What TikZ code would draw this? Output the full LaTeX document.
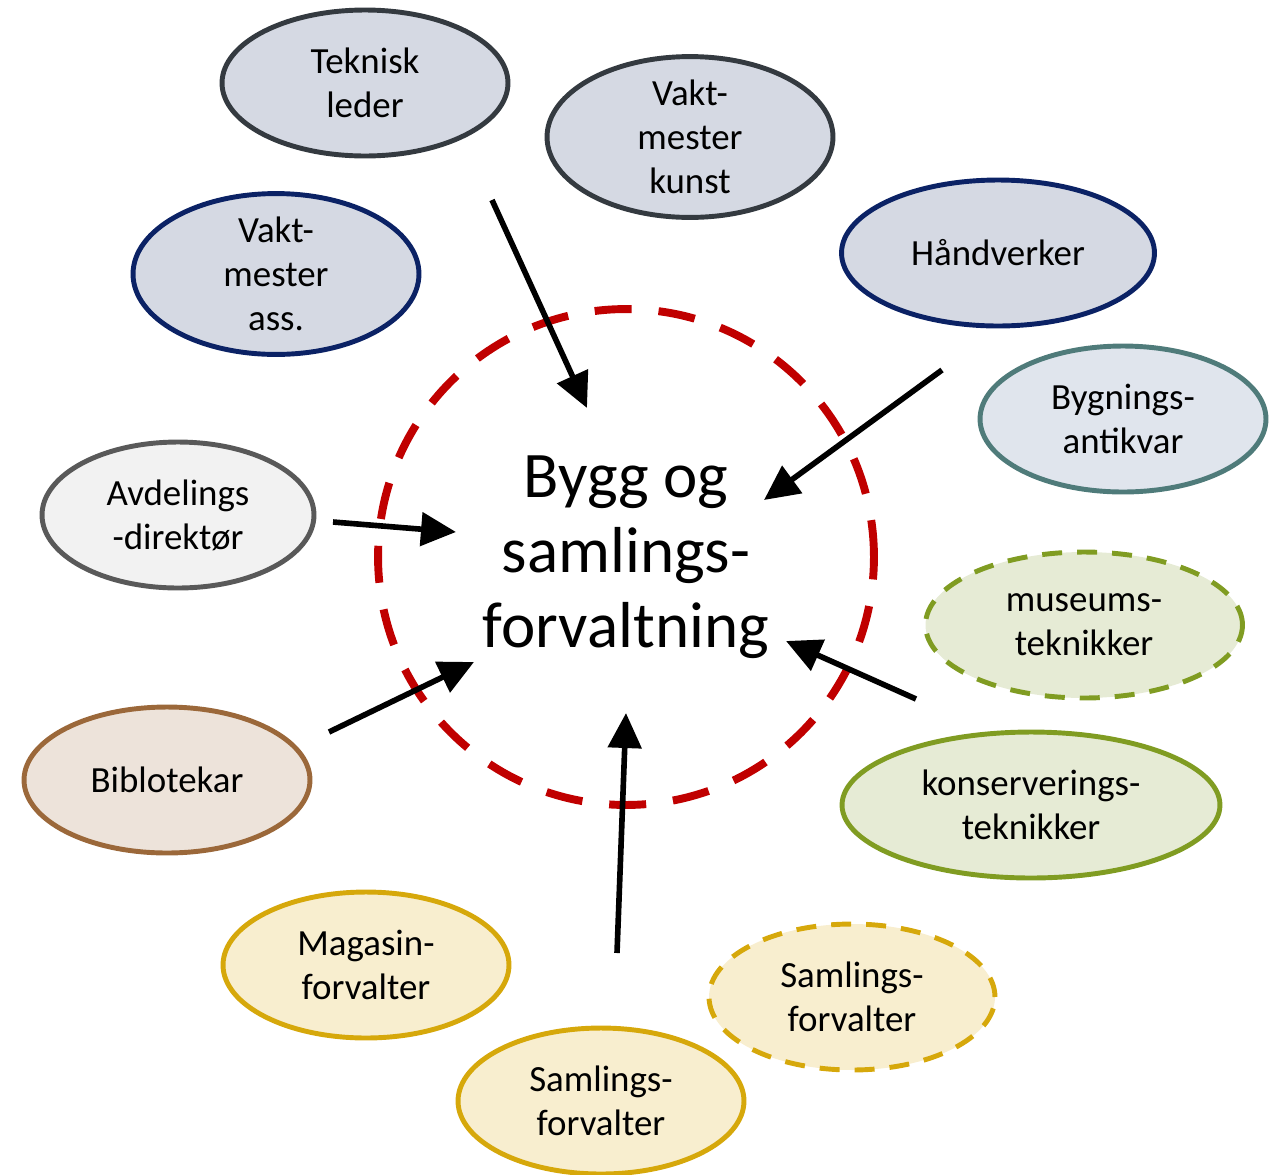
\documentclass[tikz,border=0pt]{standalone}
\usepackage{fontspec}
\setmainfont{Carlito}
\usetikzlibrary{shapes.geometric,arrows.meta}

\definecolor{slatefill}{HTML}{D5D9E3}
\definecolor{slateline}{HTML}{343A40}
\definecolor{navyline}{HTML}{0B2265}
\definecolor{tealfill}{HTML}{E0E5ED}
\definecolor{tealline}{HTML}{4F7B7A}
\definecolor{greyfill}{HTML}{F2F2F2}
\definecolor{greyline}{HTML}{595959}
\definecolor{olivefill}{HTML}{E6EBD5}
\definecolor{oliveline}{HTML}{809C22}
\definecolor{brownfill}{HTML}{EDE3DA}
\definecolor{brownline}{HTML}{9B683A}
\definecolor{goldfill}{HTML}{F8EECF}
\definecolor{goldline}{HTML}{D6A80B}
\definecolor{corered}{HTML}{C00000}

\tikzset{
  role/.style={ellipse, line width=2.8pt, inner sep=0pt, minimum width=5.72cm,
    minimum height=2.92cm, align=center, font=\fontsize{21}{25}\selectfont},
  tentative/.style={dash pattern=on 0.4cm off 0.3cm},
  feeds/.style={-{Triangle[length=0.7cm,width=0.66cm]}, line width=3.2pt},
}

\begin{document}
\begin{tikzpicture}[x=0.02cm, y=-0.02cm]
  \useasboundingbox (0,0) rectangle (1271,1174);

  % centre
  \node[circle, draw=corered, line width=4.5pt, dash pattern=on 0.74cm off 0.54cm,
    minimum size=9.92cm, align=center, font=\fontsize{37}{42.7}\selectfont]
    (core) at (626,557) {Bygg og\\samlings-\\forvaltning};

  % technical staff
  \node[role, fill=slatefill, draw=slateline] (leader) at (365,83) {Teknisk\\leder};
  \node[role, fill=slatefill, draw=slateline] (artkeeper) at (690,137) {Vakt-\\mester\\kunst};
  \node[role, fill=slatefill, draw=navyline] (asskeeper) at (276,274) {Vakt-\\mester\\ass.};
  \node[role, fill=slatefill, draw=navyline, minimum width=6.26cm] (craft) at (998,253) {Håndverker};
  \node[role, fill=tealfill, draw=tealline] (antiq) at (1123,419) {Bygnings-\\antikvar};

  % management and library
  \node[role, fill=greyfill, draw=greyline, minimum width=5.44cm] (director) at (178,515) {Avdelings\\-direktør};
  \node[role, fill=brownfill, draw=brownline] (library) at (167,780) {Biblotekar};

  % conservation
  \node[role, tentative, fill=olivefill, draw=oliveline, minimum width=6.34cm] (museumtech) at (1084,625) {museums-\\teknikker};
  \node[role, fill=olivefill, draw=oliveline, minimum width=7.56cm] (constech) at (1031,805) {konserverings-\\teknikker};

  % collections
  \node[role, fill=goldfill, draw=goldline] (storage) at (366,965) {Magasin-\\forvalter};
  \node[role, tentative, fill=goldfill, draw=goldline] (collnew) at (852,997) {Samlings-\\forvalter};
  \node[role, fill=goldfill, draw=goldline] (coll) at (601,1101) {Samlings-\\forvalter};

  % arrows into the centre
  \coordinate (fromtop) at (492,200);    \coordinate (totop) at (587,408);
  \coordinate (fromright) at (942,370);  \coordinate (toright) at (764,500);
  \coordinate (fromleft) at (333,522);   \coordinate (toleft) at (456,532);
  \coordinate (fromlow) at (916,699);    \coordinate (tolow) at (786,641);
  \coordinate (fromlib) at (329,732);    \coordinate (tolib) at (474,662);
  \coordinate (frombottom) at (617,953); \coordinate (tobottom) at (626,713);

  \draw[feeds] (fromtop) -- (totop);
  \draw[feeds] (fromright) -- (toright);
  \draw[feeds] (fromleft) -- (toleft);
  \draw[feeds] (fromlow) -- (tolow);
  \draw[feeds] (fromlib) -- (tolib);
  \draw[feeds] (frombottom) -- (tobottom);
\end{tikzpicture}
\end{document}
